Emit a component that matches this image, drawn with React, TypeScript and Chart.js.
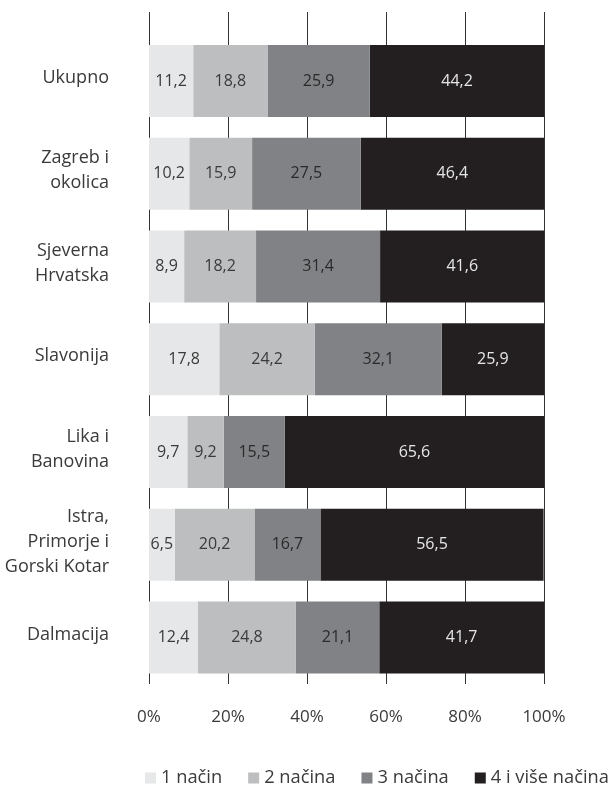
import React, { useEffect, useRef } from "react";
import { Chart, registerables } from "chart.js";

Chart.register(...registerables);

const categories: string[][] = [
  ["Ukupno"],
  ["Zagreb i", "okolica"],
  ["Sjeverna", "Hrvatska"],
  ["Slavonija"],
  ["Lika i", "Banovina"],
  ["Istra,", "Primorje i", "Gorski Kotar"],
  ["Dalmacija"],
];

const seriesNames = ["1 način", "2 načina", "3 načina", "4 i više načina"];
const nacin1 = [11.2, 10.2, 8.9, 17.8, 9.7, 6.5, 12.4];
const nacin2 = [18.8, 15.9, 18.2, 24.2, 9.2, 20.2, 24.8];
const nacin3 = [25.9, 27.5, 31.4, 32.1, 15.5, 16.7, 21.1];
const nacin4 = [44.2, 46.4, 41.6, 25.9, 65.6, 56.5, 41.7];
const xTicks = [0, 20, 40, 60, 80, 100];

const colors = ["#e6e7e8", "#bcbec0", "#808285", "#231f20"];
const labelColors = ["#3a3a3a", "#3a3a3a", "#2a2a2a", "#e6e6e6"];
const FONT = "'Open Sans', 'Noto Sans', sans-serif";

const gridPlugin = {
  id: "customGrid",
  beforeDatasetsDraw(chart: any) {
    const { ctx, chartArea, scales } = chart;
    const xs = scales.x;
    ctx.save();
    ctx.strokeStyle = "#333333";
    ctx.lineWidth = 1;
    xTicks.forEach((v) => {
      const px = Math.round(xs.getPixelForValue(v)) + 0.5;
      ctx.beginPath();
      ctx.moveTo(px, 12);
      ctx.lineTo(px, chartArea.bottom);
      ctx.stroke();
    });
    ctx.restore();
  },
};

const labelPlugin = {
  id: "valueLabels",
  afterDatasetsDraw(chart: any) {
    const { ctx } = chart;
    ctx.save();
    ctx.font = `16px ${FONT}`;
    ctx.textAlign = "center";
    ctx.textBaseline = "middle";
    chart.data.datasets.forEach((ds: any, di: number) => {
      const meta = chart.getDatasetMeta(di);
      meta.data.forEach((el: any, i: number) => {
        const v = ds.data[i] as number;
        const cx = (el.x + el.base) / 2;
        ctx.fillStyle = labelColors[di];
        ctx.fillText(v.toFixed(1).replace(".", ","), cx, el.y);
      });
    });
    ctx.restore();
  },
};

const legendPlugin = {
  id: "customLegend",
  afterDraw(chart: any) {
    const { ctx } = chart;
    ctx.save();
    ctx.font = `18.3px ${FONT}`;
    ctx.textBaseline = "middle";
    ctx.textAlign = "left";
    let x = 145;
    const cy = 778;
    chart.data.datasets.forEach((ds: any) => {
      ctx.fillStyle = ds.backgroundColor;
      ctx.fillRect(x, cy - 5.5, 11, 11);
      x += 11 + 5;
      ctx.fillStyle = "#3a3a3a";
      ctx.fillText(ds.label, x, cy);
      x += ctx.measureText(ds.label).width + 26;
    });
    ctx.restore();
  },
};

export default function App() {
  const ref = useRef<HTMLCanvasElement | null>(null);
  useEffect(() => {
    if (!ref.current) return;
    const data = [nacin1, nacin2, nacin3, nacin4];
    const chart = new Chart(ref.current, {
      type: "bar",
      data: {
        labels: categories as any,
        datasets: data.map((d, i) => ({
          label: seriesNames[i],
          data: d,
          backgroundColor: colors[i],
          borderWidth: 0,
          categoryPercentage: 1,
          barPercentage: 0.776,
        })),
      },
      options: {
        indexAxis: "y",
        responsive: false,
        animation: false,
        layout: { padding: { top: 34.6, left: 0, right: 68, bottom: 45 } },
        scales: {
          x: {
            stacked: true,
            min: 0,
            max: 100,
            grid: { display: false, drawTicks: false },
            border: { display: false },
            afterBuildTicks: (s: any) => {
              s.ticks = xTicks.map((v) => ({ value: v }));
            },
            afterFit: (s: any) => {
              s.height = 60;
              s.paddingLeft = 0;
              s.paddingRight = 0;
            },
            ticks: {
              padding: 23,
              color: "#3a3a3a",
              font: { family: FONT, size: 17 },
              callback: (v: any) => v + "%",
            },
          },
          y: {
            stacked: true,
            grid: { display: false, drawTicks: false },
            border: { display: false },
            afterFit: (s: any) => {
              s.width = 149;
              s.paddingTop = 0;
              s.paddingBottom = 0;
            },
            ticks: {
              padding: 40,
              labelOffset: -3,
              color: "#3a3a3a",
              font: { family: FONT, size: 18, lineHeight: 1.4 },
            },
          },
        },
        plugins: {
          legend: { display: false },
          tooltip: { enabled: false },
        },
      },
      plugins: [gridPlugin, labelPlugin, legendPlugin],
    });
    return () => chart.destroy();
  }, []);
  return (
    <div style={{ position: "absolute", left: 0, top: 0, width: 612, height: 789, background: "#fff" }}>
      <canvas ref={ref} width={612} height={789} style={{ width: 612, height: 789, display: "block" }} />
    </div>
  );
}
